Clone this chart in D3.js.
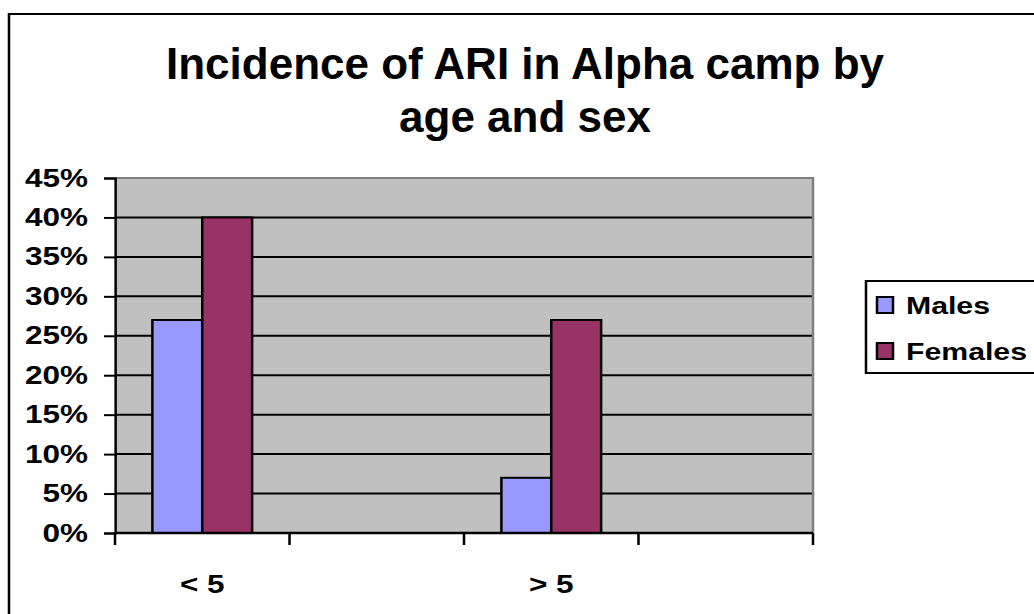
<!DOCTYPE html>
<html>
  <head>
    <meta charset="UTF-8">
    <title>Incidence of ARI in Alpha camp</title>
    <script src="https://cdn.jsdelivr.net/npm/d3@7"></script>
    <style>
      body { margin: 0; background: #fff; }
      svg { display: block; }
      text { font-family: Arial, "Liberation Sans", sans-serif; font-weight: bold; fill: #000; }
    </style>
  </head>
  <body>
    <svg width="1034" height="614"></svg>
    <script>
      // data
      var categories = ["< 5", "", "> 5", ""];
      var series = ["Males", "Females"];
      var males = [0.27, null, 0.07, null];
      var females = [0.40, null, 0.27, null];
      var yTicks = [0, 0.05, 0.10, 0.15, 0.20, 0.25, 0.30, 0.35, 0.40, 0.45];
      var colors = ["#9999FF", "#993366"];

      // the original picture is stretched sideways, so draw in a narrower
      // viewBox and let the svg stretch it
      var SX = 1.26;
      var W = 1034 / SX, H = 614;
      function px(x) { return x / SX; }

      var svg = d3.select("svg")
        .attr("viewBox", "0 0 " + W + " " + H)
        .attr("preserveAspectRatio", "none");

      // outer chart border (runs off the right and bottom)
      svg.append("rect")
        .attr("x", px(9)).attr("y", 14)
        .attr("width", W).attr("height", H)
        .attr("fill", "none").attr("stroke", "#000").attr("stroke-width", 2);

      // title is not stretched, undo the x scale
      var title = svg.append("text")
        .attr("transform", "scale(" + (1 / SX) + ",1)")
        .attr("text-anchor", "middle")
        .style("font-size", "44px");
      title.append("tspan").attr("x", 525).attr("y", 79).text("Incidence of ARI in Alpha camp by");
      title.append("tspan").attr("x", 525).attr("y", 132).text("age and sex");

      var plot = { left: px(115), right: px(813), top: 178, bottom: 533 };

      var x = d3.scaleBand()
        .domain(d3.range(categories.length))
        .range([plot.left, plot.right])
        .padding(0);
      var bw = x.bandwidth();
      var gw = bw / 1.75; // excel gap width 75%
      var xs = d3.scaleBand().domain(series).range([0, gw]).padding(0);

      var y = d3.scaleLinear().domain([0, 0.45]).range([plot.bottom, plot.top]);

      var g = svg.append("g");

      // plot background
      g.append("rect")
        .attr("x", plot.left).attr("y", plot.top)
        .attr("width", plot.right - plot.left).attr("height", plot.bottom - plot.top)
        .attr("fill", "#C0C0C0");

      // gridlines
      g.selectAll(".grid")
        .data(yTicks.filter(function(d){ return d > 0 && d < 0.45; }))
        .enter().append("line")
        .attr("x1", plot.left).attr("x2", plot.right)
        .attr("y1", function(d){ return y(d); })
        .attr("y2", function(d){ return y(d); })
        .attr("stroke", "#000").attr("stroke-width", 2);

      // top and right edge of plot area
      g.append("path")
        .attr("d", "M" + plot.left + "," + plot.top + "H" + plot.right + "V" + plot.bottom)
        .attr("fill", "none").attr("stroke", "#808080").attr("stroke-width", 2);

      // bars
      var seriesData = [males, females];
      series.forEach(function(s, si){
        var vals = seriesData[si];
        g.selectAll(".bar" + si)
          .data(vals.map(function(v, i){ return { i: i, v: v }; }).filter(function(d){ return d.v != null; }))
          .enter().append("rect")
          .attr("x", function(d){ return x(d.i) + (bw - gw) / 2 + xs(s); })
          .attr("y", function(d){ return y(d.v); })
          .attr("width", xs.bandwidth())
          .attr("height", function(d){ return y(0) - y(d.v); })
          .attr("fill", colors[si])
          .attr("stroke", "#000").attr("stroke-width", 2);
      });

      // y axis
      var yAxis = d3.axisLeft(y)
        .tickValues(yTicks)
        .tickFormat(d3.format(".0%"))
        .tickSize(px(11))
        .tickPadding(px(16));
      var ya = svg.append("g")
        .attr("transform", "translate(" + plot.left + ",0)")
        .call(yAxis);
      ya.select(".domain").attr("stroke", "#000").attr("stroke-width", 2);
      ya.selectAll(".tick line").attr("stroke", "#000").attr("stroke-width", 2);
      ya.selectAll(".tick text")
        .attr("fill", "#000")
        .style("font-size", "25px")
        .style("font-family", "Arial, 'Liberation Sans', sans-serif")
        .style("font-weight", "bold");

      // x axis line + ticks at category boundaries
      var xa = svg.append("g");
      xa.append("line")
        .attr("x1", plot.left).attr("x2", plot.right)
        .attr("y1", plot.bottom).attr("y2", plot.bottom)
        .attr("stroke", "#000").attr("stroke-width", 2.5);
      var bounds = d3.range(categories.length + 1).map(function(i){
        return i < categories.length ? x(i) : plot.right;
      });
      xa.selectAll(".xt")
        .data(bounds)
        .enter().append("line")
        .attr("x1", function(d){ return d; }).attr("x2", function(d){ return d; })
        .attr("y1", plot.bottom).attr("y2", plot.bottom + 12)
        .attr("stroke", "#000").attr("stroke-width", 2);
      xa.selectAll(".xl")
        .data(categories)
        .enter().append("text")
        .attr("x", function(d, i){ return x(i) + bw / 2; })
        .attr("y", 593)
        .attr("text-anchor", "middle")
        .style("font-size", "25px")
        .text(function(d){ return d; });

      // legend (runs off the right edge)
      var lg = svg.append("g");
      lg.append("rect")
        .attr("x", px(866)).attr("y", 281)
        .attr("width", px(220)).attr("height", 92)
        .attr("fill", "#fff").attr("stroke", "#000").attr("stroke-width", 2);
      series.forEach(function(s, i){
        var yy = 297 + i * 46;
        lg.append("rect")
          .attr("x", px(877)).attr("y", yy)
          .attr("width", px(16)).attr("height", 16)
          .attr("fill", colors[i]).attr("stroke", "#000").attr("stroke-width", 2);
        lg.append("text")
          .attr("x", px(906)).attr("y", yy + 17)
          .style("font-size", "24px")
          .text(s);
      });
    </script>
  </body>
</html>
